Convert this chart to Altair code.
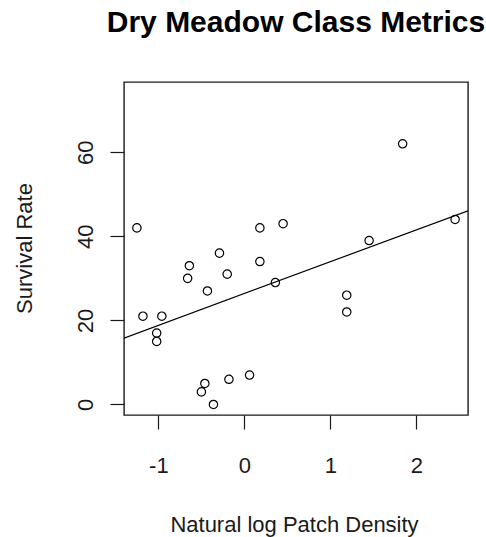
import altair as alt
import pandas as pd

# Data
patch_density_ln = [-1.25, -1.18, -0.96, -1.02, -1.02, -0.64, -0.66, -0.43, -0.29, -0.20,
                    0.18, 0.18, 0.45, 0.36, -0.46, -0.50, -0.36, -0.18, 0.06,
                    1.19, 1.19, 1.45, 1.84, 2.45]
survival_rate = [42, 21, 21, 17, 15, 33, 30, 27, 36, 31,
                 42, 34, 43, 29, 5, 3, 0, 6, 7,
                 26, 22, 39, 62, 44]
x_ticks = [-1, 0, 1, 2]
y_ticks = [0, 20, 40, 60]
x_domain = [-1.40, 2.60]
y_domain = [-2.5, 76.7]

df = pd.DataFrame({"x": patch_density_ln, "y": survival_rate})

FONT = "Liberation Sans"
INK = "#1a1a1a"

x_enc = alt.X(
    "x:Q",
    scale=alt.Scale(domain=x_domain, nice=False, zero=False),
    axis=alt.Axis(
        values=x_ticks, grid=False, domain=False, tickSize=14, tickColor=INK,
        tickWidth=1.2, labelFontSize=22, labelFont=FONT, labelColor=INK,
        labelPadding=26, labelBaseline="top", labelExpr="datum.value + ''",
        title="Natural log Patch Density", titleFont=FONT, titleFontSize=22,
        titleFontWeight="normal", titleColor=INK, titleBaseline="alphabetic",
        titleAlign="center", titleX=170, titleY=116,
    ),
)
y_enc = alt.Y(
    "y:Q",
    scale=alt.Scale(domain=y_domain, nice=False, zero=False),
    axis=alt.Axis(
        values=y_ticks, grid=False, domain=False, tickSize=14, tickColor=INK,
        tickWidth=1.2, labelFontSize=22, labelFont=FONT, labelColor=INK,
        labelAngle=270, labelAlign="center", labelBaseline="bottom",
        labelPadding=13, labelExpr="datum.value + ''",
        title="Survival Rate", titleFont=FONT, titleFontSize=22,
        titleFontWeight="normal", titleColor=INK, titleAngle=270,
        titleBaseline="alphabetic", titleAlign="center",
        titleX=-93, titleY=166,
    ),
)

points = alt.Chart(df).mark_point(
    shape="circle", filled=False, size=70, strokeWidth=1.2, color="black", opacity=1
).encode(x=x_enc, y=y_enc)

fit = alt.Chart(df).transform_regression(
    "x", "y", extent=x_domain
).mark_line(color="black", strokeWidth=1.2, clip=True).encode(x="x:Q", y="y:Q")

chart = alt.layer(points, fit).properties(
    width=344,
    height=333,
    background="white",
    title=alt.TitleParams(
        "Dry Meadow Class Metrics", font=FONT, fontSize=30, fontWeight="bold",
        color="black", anchor="middle", offset=44,
    ),
    autosize=alt.AutoSizeParams(type="none"),
    padding={"left": 124, "top": 82, "right": 18, "bottom": 122},
).configure_view(stroke=INK, strokeWidth=1.4)

chart.save("out.html", embed_options={"renderer": "svg", "actions": False})
